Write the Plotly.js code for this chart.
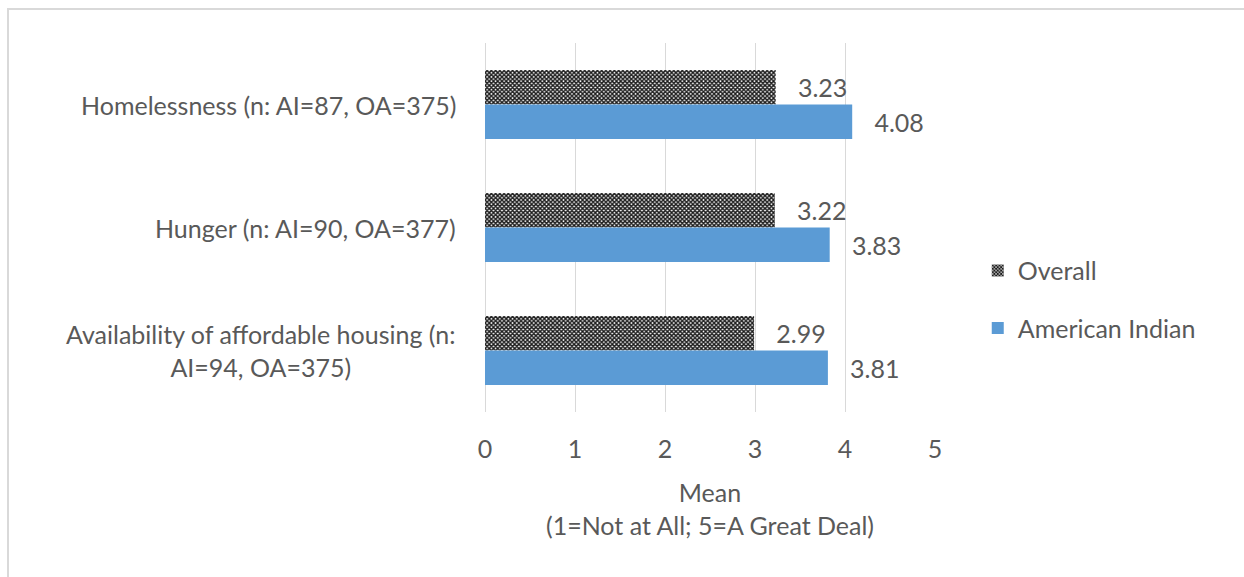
<!DOCTYPE html>
<html>
<head>
<meta charset="utf-8">
<script src="https://cdn.plot.ly/plotly-3.0.1.min.js"></script>
<style>
html,body{margin:0;padding:0;background:#fff;}
#wrap{position:absolute;left:0;top:0;width:1244px;height:577px;}
#frame{position:absolute;left:7px;top:8px;width:1240px;height:572px;border-left:2px solid #d9d9d9;border-top:2px solid #d9d9d9;pointer-events:none;}
#chart{position:absolute;left:0;top:0;width:1244px;height:577px;}
</style>
</head>
<body>
<div id="wrap"><div id="chart"></div><div id="frame"></div></div>
<script>
var categories = [
  "Homelessness (n: AI=87, OA=375)",
  "Hunger (n: AI=90, OA=377)",
  "Availability of affordable housing (n:<br>AI=94, OA=375)"
];
var overallValues = [3.23, 3.22, 2.99];
var americanIndianValues = [4.08, 3.83, 3.81];
var xTicks = [0, 1, 2, 3, 4, 5];
var seriesNames = ["Overall", "American Indian"];

var fontFam = "Lato, 'Open Sans', sans-serif";
var txtColor = "#595959";
var fs = 25;

var traces = [
  {
    type: "bar", orientation: "h", name: seriesNames[0],
    y: categories, x: overallValues,
    legendgroup: "a",
    marker: {color: "#ffffff", line: {width: 0},
      pattern: {shape: "x", fgcolor: "#1a1a1a", bgcolor: "#ffffff", size: 3, solidity: 0.7}},
    text: overallValues.map(function(v){return "\u00a0\u00a0\u00a0" + v.toFixed(2);}),
    textposition: "outside", cliponaxis: false,
    textfont: {family: fontFam, size: fs, color: txtColor},
    hoverinfo: "x+name"
  },
  {
    type: "bar", orientation: "h", name: seriesNames[1],
    y: categories, x: americanIndianValues,
    legendgroup: "b",
    marker: {color: "#5b9bd5", line: {width: 0}},
    text: americanIndianValues.map(function(v){return "\u00a0\u00a0\u00a0" + v.toFixed(2);}),
    textposition: "outside", cliponaxis: false,
    textfont: {family: fontFam, size: fs, color: txtColor},
    hoverinfo: "x+name"
  }
];

var annotations = categories.map(function(c){
  return {
    xref: "paper", yref: "y", x: -0.06, y: c,
    xanchor: "right", yanchor: "middle", align: "center",
    text: c, showarrow: false,
    font: {family: fontFam, size: fs, color: txtColor}
  };
});

var layout = {
  width: 1244, height: 577,
  margin: {l: 485, r: 309, t: 43, b: 165, pad: 0},
  paper_bgcolor: "#ffffff", plot_bgcolor: "#ffffff",
  barmode: "group", bargap: 0.44, bargroupgap: 0,
  font: {family: fontFam, size: fs, color: txtColor},
  showlegend: true,
  legend: {
    x: 1.095, y: 0.445, xanchor: "left", yanchor: "top",
    traceorder: "grouped", tracegroupgap: 22,
    font: {family: fontFam, size: fs, color: txtColor},
    itemwidth: 30, bgcolor: "rgba(0,0,0,0)"
  },
  xaxis: {
    range: [0, 5], tickvals: xTicks, ticktext: xTicks.map(String),
    showgrid: true, gridcolor: "#d9d9d9", gridwidth: 1,
    zeroline: true, zerolinecolor: "#d9d9d9", zerolinewidth: 1,
    showline: false, ticks: "", ticklen: 0, ticklabelstandoff: 20,
    tickfont: {family: fontFam, size: fs, color: txtColor},
    fixedrange: true,
    title: {text: "Mean<br>(1=Not at All; 5=A Great Deal)", standoff: 22,
      font: {family: fontFam, size: fs, color: txtColor}}
  },
  yaxis: {
    type: "category", autorange: "reversed",
    showticklabels: false, showgrid: false, zeroline: false, showline: false, ticks: "",
    fixedrange: true
  },
  annotations: annotations
};

Plotly.newPlot("chart", traces, layout, {displayModeBar: false, staticPlot: true});
</script>
</body>
</html>
